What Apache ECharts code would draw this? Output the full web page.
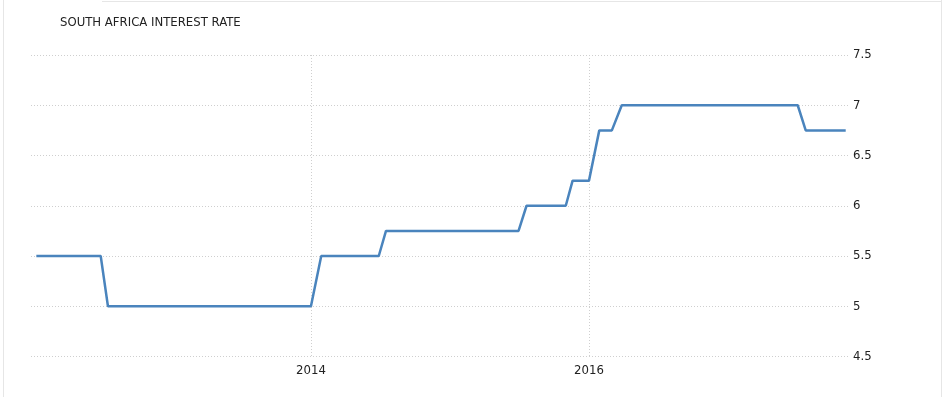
<!DOCTYPE html>
<html>
<head>
<meta charset="utf-8">
<script src="https://cdn.jsdelivr.net/npm/echarts@6/dist/echarts.min.js"></script>
<style>html,body{margin:0;padding:0;background:#fff;}#c{width:949px;height:397px;}</style>
</head>
<body>
<div id="c"></div>
<script>
var titleText = 'SOUTH AFRICA INTEREST RATE';
var dates = ['2012-01-11','2012-06-28','2012-07-17','2014-01-01','2014-01-28','2014-06-28','2014-07-17','2015-06-30','2015-07-21','2015-11-01','2015-11-19','2016-01-01','2016-01-28','2016-03-01','2016-03-27','2017-07-02','2017-07-23','2017-11-05'];
var rates = [5.5,5.5,5.0,5.0,5.5,5.5,5.75,5.75,6.0,6.0,6.25,6.25,6.75,6.75,7.0,7.0,6.75,6.75];
var xTickYears = ['2014-01-01','2016-01-01'];
var xRange = ['2011-12-28','2017-11-11'];

function ts(d){ return Date.parse(d + 'T00:00:00Z'); }
var FONT = 'DejaVu Sans Condensed';
var chart = echarts.init(document.getElementById('c'), null, {renderer:'canvas'});
var seriesData = dates.map(function(d,i){ return [ts(d), rates[i]]; });
var tickVals = xTickYears.map(ts);
chart.setOption({
  animation:false,
  backgroundColor:'#fff',
  title:{ text:titleText, left:60, top:16, padding:0, textStyle:{ fontFamily:FONT, fontSize:13, fontWeight:'normal', color:'#222' } },
  graphic:[
    { type:'line', shape:{x1:3.5,y1:0,x2:3.5,y2:397}, style:{stroke:'#e6e6e6',lineWidth:1} },
    { type:'line', shape:{x1:941.5,y1:0,x2:941.5,y2:397}, style:{stroke:'#e6e6e6',lineWidth:1} },
    { type:'line', shape:{x1:102,y1:1.5,x2:942,y2:1.5}, style:{stroke:'#e6e6e6',lineWidth:1} }
  ],
  grid:{ left:31, right:101, top:55, bottom:40.5, containLabel:false },
  xAxis:{
    type:'value',
    min:ts(xRange[0]), max:ts(xRange[1]),
    axisLine:{show:false},
    axisTick:{show:false, customValues:tickVals},
    axisLabel:{ customValues:tickVals, formatter:function(v){ return String(new Date(v).getUTCFullYear()); }, color:'#222', fontFamily:FONT, fontSize:13, margin:8 },
    splitLine:{ show:true, lineStyle:{ type:[1,2], color:'#cfcfcf', width:1 } }
  },
  yAxis:{
    type:'value', position:'right', min:4.5, max:7.5, interval:0.5,
    axisLine:{show:false}, axisTick:{show:false},
    axisLabel:{ color:'#222', fontFamily:FONT, fontSize:13, margin:5, formatter:function(v){ return String(v); } },
    splitLine:{ show:true, lineStyle:{ type:[1,2], color:'#cfcfcf', width:1 } }
  },
  series:[{
    type:'line', data:seriesData, showSymbol:false, symbol:'none',
    lineStyle:{ color:'#4a84bd', width:2.5 }
  }]
});
</script>
</body>
</html>
